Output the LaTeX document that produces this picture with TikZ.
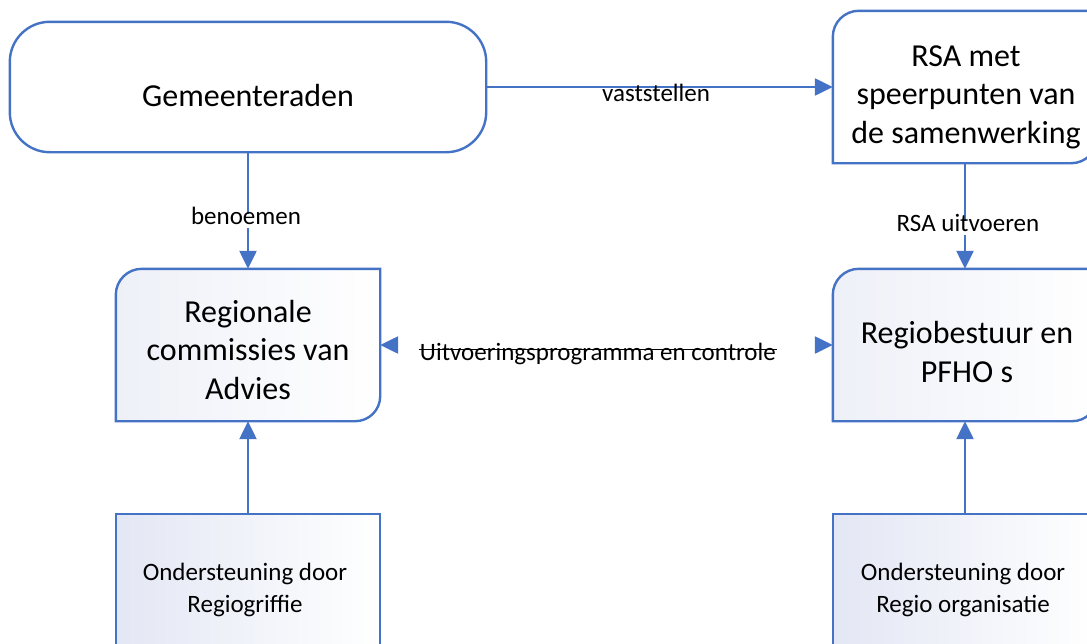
\documentclass[tikz,border=0pt]{standalone}
\usepackage{fontspec}
\setmainfont{Carlito}
\usetikzlibrary{arrows.meta,calc}
\definecolor{boxblue}{HTML}{4472C4}
\definecolor{ondfill}{HTML}{E3E7F4}
\definecolor{boxfill}{HTML}{EEF0F8}
\tikzset{
  frame/.style={draw=none, inner sep=0pt, minimum width=264pt, minimum height=152pt},
  outline/.style={draw=boxblue, line width=2.4pt},
  bigtext/.style={font=\fontsize{32}{38.4}\selectfont, align=center, anchor=base, inner sep=0pt},
  smalltext/.style={font=\fontsize{25}{31.5}\selectfont, align=center, anchor=base, inner sep=0pt},
  conn/.style={draw=boxblue, line width=2.4pt, -{Triangle[length=18pt,width=17pt]}},
  lbl/.style={font=\fontsize{25}{30}\selectfont, fill=white, inner xsep=3pt, inner ysep=1pt, text height=1em, text depth=0.2em, anchor=base},
  strike/.style={draw=black, line width=1.6pt},
  shadeL/.style={left color=ondfill, right color=white},
  shadeS/.style={left color=boxfill, right color=white},
}
\begin{document}
\begin{tikzpicture}[x=1pt,y=-1pt]
\useasboundingbox (0,0) rectangle (1087,643);
\clip (0,0) rectangle (1087,643);
% frames
\node[frame, minimum width=476pt, minimum height=130pt] (gem) at (248,87) {};
\node[frame] (rsa) at (965,87) {};
\node[frame] (rca) at (248,345) {};
\node[frame] (rb) at (965,345) {};
\node[frame] (ondL) at (248,590) {};
\node[frame] (ondR) at (965,590) {};
% outlines
\draw[outline, fill=white, rounded corners=40pt] (gem.north west) rectangle (gem.south east);
\draw[outline, fill=white] ([yshift=-26pt]rsa.north west) arc[start angle=180, end angle=90, radius=26pt]
  -- (rsa.north east) -- ([yshift=26pt]rsa.south east) arc[start angle=0, end angle=-90, radius=26pt]
  -- (rsa.south west) -- cycle;
\draw[outline, shadeS] ([yshift=-26pt]rca.north west) arc[start angle=180, end angle=90, radius=26pt]
  -- (rca.north east) -- ([yshift=25pt]rca.south east) arc[start angle=0, end angle=-90, radius=25pt]
  -- (rca.south west) -- cycle;
\draw[outline, shadeS] ([yshift=-26pt]rb.north west) arc[start angle=180, end angle=90, radius=26pt]
  -- (rb.north east) -- ([yshift=25pt]rb.south east) arc[start angle=0, end angle=-90, radius=25pt]
  -- (rb.south west) -- cycle;
\draw[outline, shadeL] (ondL.north west) rectangle (ondL.south east);
\draw[outline, shadeL] (ondR.north west) rectangle (ondR.south east);
% connectors
\draw[conn] (gem.east) -- node[lbl, pos=0.49, yshift=-14pt] {vaststellen} (rsa.west);
\draw[conn] (gem.south) -- node[lbl, pos=0.624, xshift=-2pt] {benoemen} (rca.north);
\draw[conn] (rsa.south) -- node[lbl, pos=0.65, xshift=3pt] {RSA uitvoeren} (rb.north);
\draw[line width=2.4pt, draw=white, {Triangle[length=18pt,width=17pt,color=boxblue]}-{Triangle[length=18pt,width=17pt,color=boxblue]}]
  (rca.east) -- node[lbl, pos=0.481, yshift=-15pt] (uit) {Uitvoeringsprogramma en controle} (rb.west);
\draw[strike] ([xshift=3pt,yshift=10.5pt]uit.base west) -- ([xshift=-3pt,yshift=10.5pt]uit.base east);
\draw[conn] (ondL.north) -- (rca.south);
\draw[conn] (ondR.north) -- (rb.south);
% texts (anchor base = baseline of the last line)
\node[bigtext] (tgem) at (248,106) {Gemeenteraden};
\node[bigtext] (trsa) at (966,143) {RSA met\\speerpunten van\\de samenwerking};
\node[bigtext] (trca) at (248,399) {Regionale\\commissies van\\Advies};
\node[bigtext] (trb) at (967,382) {Regiobestuur en\\PFHO s};
\node[smalltext] (tondL) at (245,612) {Ondersteuning door\\Regiogriffie};
\node[smalltext] (tondR) at (963,612) {Ondersteuning door\\Regio organisatie};
\end{tikzpicture}
\end{document}
